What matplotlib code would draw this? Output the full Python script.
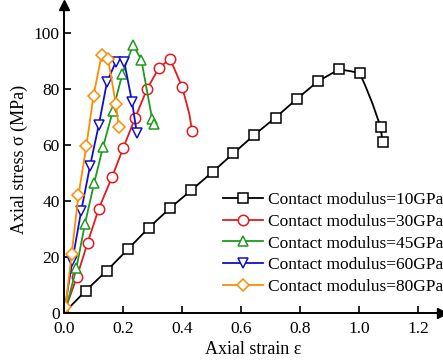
import numpy as np
import matplotlib
matplotlib.use("Agg")
import matplotlib.pyplot as plt

plt.rcParams['font.family'] = ['Liberation Serif', 'DejaVu Serif']
plt.rcParams['mathtext.fontset'] = 'stix'

# --- dati ---
x_10 = [0, 0.073, 0.145, 0.216, 0.288, 0.360, 0.432, 0.504, 0.574, 0.645, 0.717,
        0.789, 0.860, 0.932, 0.970, 1.003, 1.020, 1.045, 1.073, 1.080]
y_10 = [0, 7.9, 15.1, 22.7, 30.5, 37.5, 43.9, 50.4, 57.0, 63.6, 69.8,
        76.4, 82.7, 87.0, 86.4, 85.6, 81.5, 75.0, 66.5, 61.0]
m_10 = [1, 2, 3, 4, 5, 6, 7, 8, 9, 10, 11, 12, 13, 15, 18, 19]

x_30 = [0, 0.043, 0.080, 0.118, 0.163, 0.201, 0.241, 0.281, 0.322, 0.360, 0.401, 0.425, 0.434]
y_30 = [0, 12.7, 25.1, 37.3, 48.6, 59.0, 69.6, 79.9, 87.6, 90.7, 80.6, 71.0, 65.0]
m_30 = [1, 2, 3, 4, 5, 6, 7, 8, 9, 10, 12]

x_45 = [0.005, 0.042, 0.071, 0.102, 0.132, 0.166, 0.198, 0.234, 0.262, 0.299, 0.304]
y_45 = [1.0, 16.0, 31.8, 46.3, 59.2, 72.3, 85.5, 95.7, 90.5, 69.2, 67.4]
m_45 = list(range(len(x_45)))

x_60 = [0, 0.028, 0.058, 0.088, 0.118, 0.146, 0.175, 0.190, 0.204, 0.231, 0.247]
y_60 = [0, 18.5, 36.3, 52.4, 67.2, 82.6, 89.5, 90.8, 89.8, 75.2, 64.2]
m_60 = [1, 2, 3, 4, 5, 6, 8, 9, 10]

x_80 = [0.005, 0.026, 0.049, 0.076, 0.100, 0.128, 0.138, 0.149, 0.176, 0.186]
y_80 = [2.0, 21.2, 42.0, 59.8, 77.6, 92.3, 93.0, 90.8, 74.5, 66.3]
m_80 = [0, 1, 2, 3, 4, 5, 7, 8, 9]

labels = ['Contact modulus=10GPa', 'Contact modulus=30GPa', 'Contact modulus=45GPa',
          'Contact modulus=60GPa', 'Contact modulus=80GPa']
colori = ['black', '#e41a1c', '#1f9a1f', '#1010c8', '#ff8c00']
marker = ['s', 'o', '^', 'v', 'D']

serie = [(x_10, y_10, m_10), (x_30, y_30, m_30), (x_45, y_45, m_45),
         (x_60, y_60, m_60), (x_80, y_80, m_80)]

W, H = 443, 361
fig = plt.figure(figsize=(W / 100, H / 100), dpi=100)
ax = fig.add_axes([64 / W, 48 / H, 1.28 * 295 / W, 110 * 2.8 / H])

for (xs, ys, mk), lab, c, m in zip(serie, labels, colori, marker):
    ms = 6.5 if m == 'D' else 7.5
    ax.plot(xs, ys, color=c, lw=1.3, marker=m, markevery=mk, ms=ms,
            mfc='white', mec=c, mew=1.1, label=lab)

ax.set_xlim(0, 1.28)
ax.set_ylim(0, 110)
ax.set_xticks(np.arange(0, 1.21, 0.2))
ax.set_yticks(np.arange(0, 101, 20))
ax.set_xticklabels(['0.0', '0.2', '0.4', '0.6', '0.8', '1.0', '1.2'])

for s in ['top', 'right']:
    ax.spines[s].set_visible(False)
for s in ['left', 'bottom']:
    ax.spines[s].set_linewidth(1.4)
ax.tick_params(direction='in', length=5, width=1.2, labelsize=12.5, pad=3)
ax.tick_params(axis='x', pad=6)

# frecce sugli assi
ax.plot(1, 0, '>k', ms=7, transform=ax.transAxes, clip_on=False)
ax.plot(0, 1, '^k', ms=7, transform=ax.transAxes, clip_on=False)

ax.set_xlabel('Axial strain ε', fontsize=13, labelpad=3)
ax.set_ylabel('Axial stress σ (MPa)', fontsize=13, labelpad=4)

fig.legend(loc='upper left', bbox_to_anchor=(223 / W, 1 - 192 / H), frameon=False,
           fontsize=12.5, labelspacing=0.32, handlelength=2.3, handletextpad=0.3,
           borderpad=0, borderaxespad=0)

fig.savefig('out.png', dpi=100)
